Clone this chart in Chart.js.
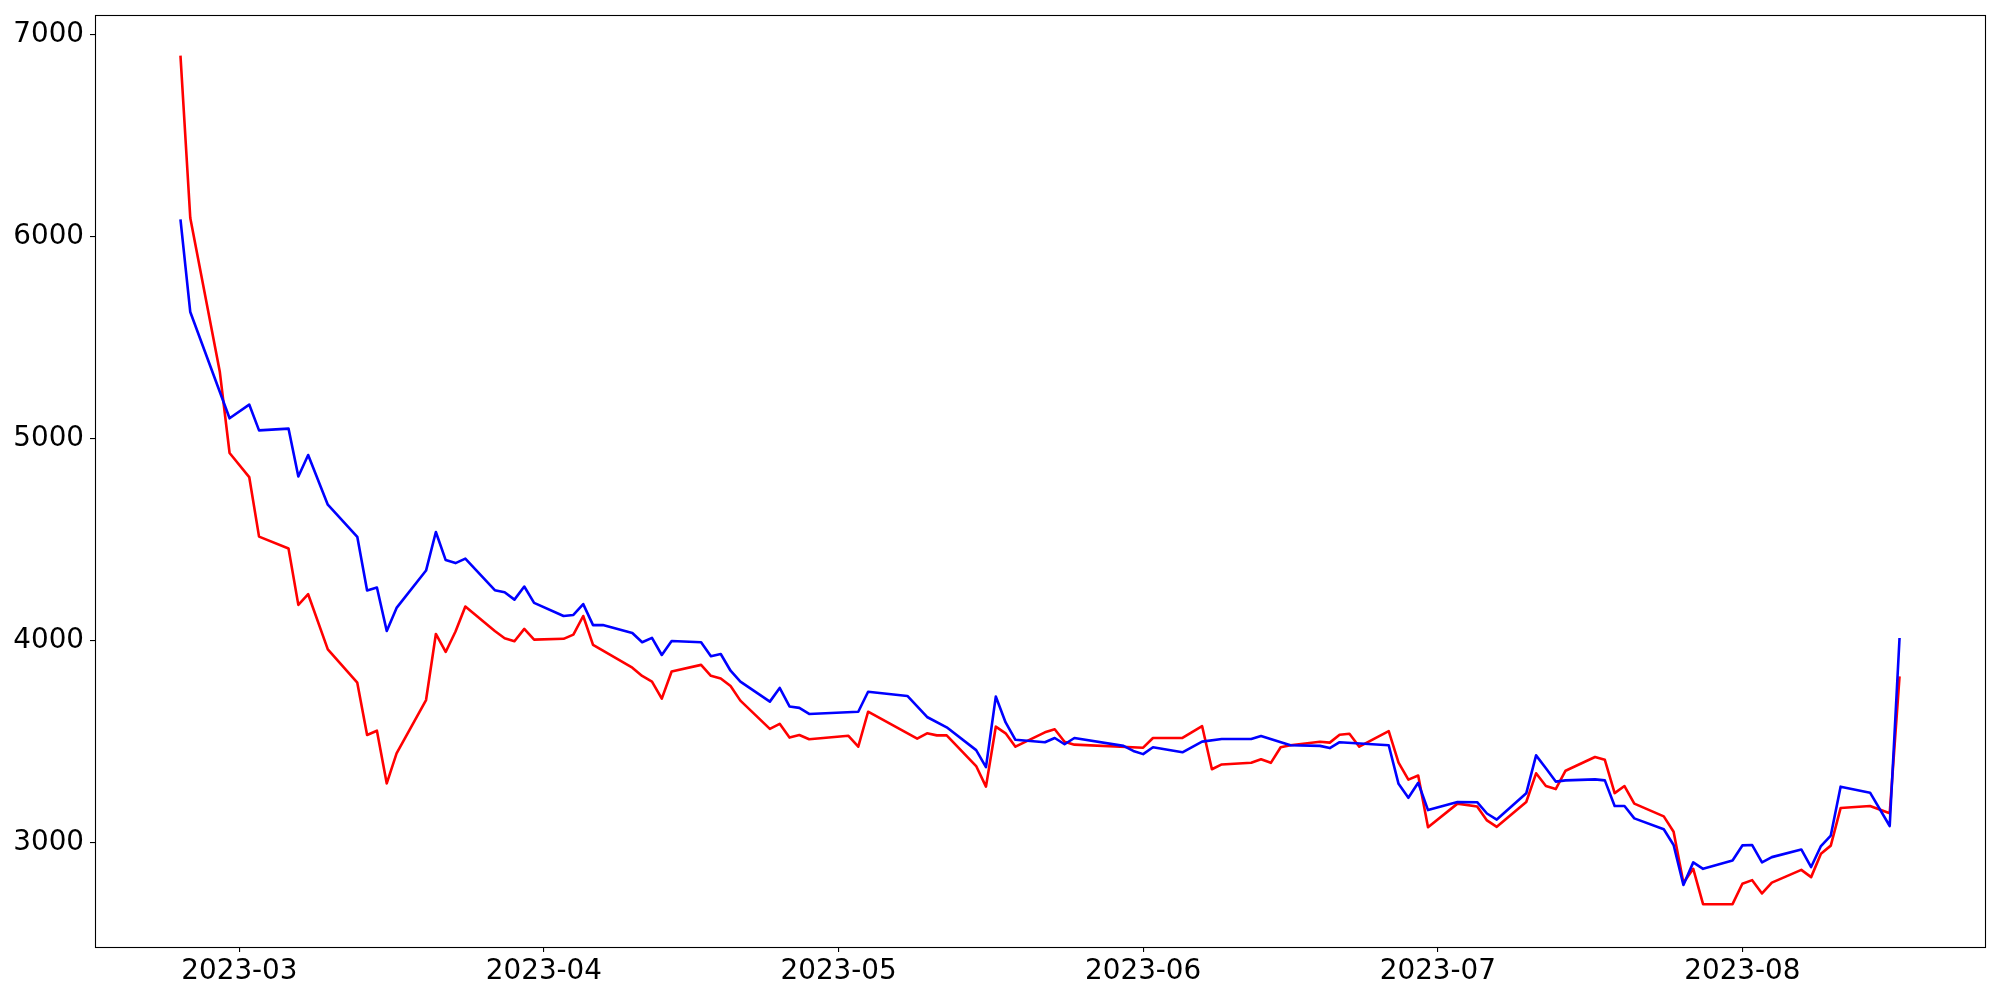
<!DOCTYPE html>
<html>
<head>
<meta charset="utf-8">
<script src="https://cdn.jsdelivr.net/npm/chart.js@4/dist/chart.umd.min.js"></script>
<style>
  html, body { margin: 0; padding: 0; background: #ffffff; }
  #c { display: block; }
</style>
</head>
<body>
<canvas id="c" width="2000" height="1000"></canvas>
<script>
// ---- data ----
const dates = [
  '2023-02-23','2023-02-24','2023-02-27','2023-02-28',
  '2023-03-02','2023-03-03','2023-03-06','2023-03-07','2023-03-08','2023-03-10',
  '2023-03-13','2023-03-14','2023-03-15','2023-03-16','2023-03-17',
  '2023-03-20','2023-03-21','2023-03-22','2023-03-23','2023-03-24',
  '2023-03-27','2023-03-28','2023-03-29','2023-03-30','2023-03-31',
  '2023-04-03','2023-04-04','2023-04-05','2023-04-06','2023-04-07',
  '2023-04-10','2023-04-11','2023-04-12','2023-04-13','2023-04-14',
  '2023-04-17','2023-04-18','2023-04-19','2023-04-20','2023-04-21',
  '2023-04-24','2023-04-25','2023-04-26','2023-04-27','2023-04-28',
  '2023-05-02','2023-05-03','2023-05-04',
  '2023-05-08','2023-05-09','2023-05-10','2023-05-11','2023-05-12',
  '2023-05-15','2023-05-16','2023-05-17','2023-05-18','2023-05-19',
  '2023-05-22','2023-05-23','2023-05-24','2023-05-25',
  '2023-05-30','2023-05-31','2023-06-01','2023-06-02',
  '2023-06-05','2023-06-07','2023-06-08','2023-06-09',
  '2023-06-12','2023-06-13','2023-06-14','2023-06-15','2023-06-16',
  '2023-06-19','2023-06-20','2023-06-21','2023-06-22','2023-06-23',
  '2023-06-26','2023-06-27','2023-06-28','2023-06-29','2023-06-30',
  '2023-07-03','2023-07-05','2023-07-06','2023-07-07',
  '2023-07-10','2023-07-11','2023-07-12','2023-07-13','2023-07-14',
  '2023-07-17','2023-07-18','2023-07-19','2023-07-20','2023-07-21',
  '2023-07-24','2023-07-25','2023-07-26','2023-07-27','2023-07-28',
  '2023-07-31','2023-08-01','2023-08-02','2023-08-03','2023-08-04',
  '2023-08-07','2023-08-08','2023-08-09','2023-08-10','2023-08-11',
  '2023-08-14','2023-08-16','2023-08-17'
];

const redValues = [
  6896, 6092, 5332, 4928,
  4809, 4514, 4455, 4176, 4229, 3956,
  3791, 3532, 3553, 3292, 3441,
  3705, 4032, 3943, 4044, 4168,
  4047, 4011, 3996, 4057, 4004,
  4008, 4029, 4121, 3978, null,
  3865, 3824, 3796, 3712, 3846,
  3879, 3825, 3812, 3774, 3702,
  3562, 3587, 3519, 3532, 3511,
  3528, 3474, 3647,
  null, 3514, 3540, 3530, 3530,
  3378, 3276, 3573, 3540, 3474,
  3545, 3560, 3498, 3484,
  null, null, 3469, 3517,
  3517, 3576, 3362, 3386,
  3394, 3412, 3394, 3471, 3481,
  3498, 3494, 3533, 3538, 3474,
  3551, 3395, 3311, 3331, 3075,
  3192, 3178, 3109, 3077,
  3200, 3342, 3279, 3264, 3355,
  3423, 3409, 3244, 3279, 3192,
  3129, 3053, 2800, 2869, 2694,
  2694, 2795, 2813, 2747, 2801,
  2864, 2828, 2944, 2984, 3170,
  3180, 3144, 3822
];

const blueValues = [
  6085, 5626, null, 5100,
  5168, 5040, 5049, 4812, 4918, 4672,
  4513, 4247, 4262, 4047, 4161,
  4346, 4537, 4398, 4383, 4405,
  4249, 4239, 4202, 4267, 4186,
  4121, 4126, 4180, 4076, 4076,
  4037, 3991, 4013, 3928, 3997,
  3991, 3922, 3933, 3850, 3796,
  3697, 3765, 3673, 3666, 3636,
  null, 3647, 3746,
  3725, null, 3621, null, 3570,
  3457, 3373, 3722, 3594, 3508,
  3496, 3517, 3486, 3517,
  3478, 3453, 3437, 3471,
  3446, 3499, null, 3512,
  3512, 3527, null, null, 3481,
  3478, 3467, 3496, null, null,
  3481, 3290, 3221, 3295, 3160,
  3200, 3199, 3143, 3113,
  3243, 3431, 3367, 3301, 3307,
  3312, 3307, 3180, 3180, 3119,
  3065, 2987, 2789, 2901, 2869,
  2910, 2985, 2987, 2901, 2927,
  2965, 2878, 2982, 3034, 3276,
  3246, 3081, 4012
];

const xTickDates = ['2023-03-01','2023-04-01','2023-05-01','2023-06-01','2023-07-01','2023-08-01'];
const yTickValues = [3000, 4000, 5000, 6000, 7000];

// ---- helpers ----
const DAY = 86400000;
function dayNum(s) {
  const [y, m, d] = s.split('-').map(Number);
  return Date.UTC(y, m - 1, d) / DAY;
}
function fmtMonth(v) {
  const d = new Date(Math.round(v) * DAY);
  return d.getUTCFullYear() + '-' + String(d.getUTCMonth() + 1).padStart(2, '0');
}

const xs = dates.map(dayNum);
const redData = xs.map((x, i) => ({ x: x, y: redValues[i] }));
const blueData = xs.map((x, i) => ({ x: x, y: blueValues[i] }));
const xTickVals = xTickDates.map(dayNum);

const xMin = xs[0] - 8.7;
const xMax = xs[xs.length - 1] + 8.7;

const framePlugin = {
  id: 'frame',
  afterDatasetsDraw(chart) {
    const a = chart.chartArea;
    const ctx = chart.ctx;
    ctx.save();
    ctx.strokeStyle = '#000000';
    ctx.lineWidth = 1.1;
    ctx.strokeRect(Math.round(a.left) + 0.5, Math.round(a.top) + 0.5,
                   Math.round(a.right - a.left), Math.round(a.bottom - a.top));
    ctx.restore();
  }
};

const font = { family: 'DejaVu Sans', size: 27.8 };

new Chart(document.getElementById('c'), {
  type: 'line',
  data: {
    datasets: [
      {
        label: 'red',
        data: redData,
        borderColor: '#ff0000',
        backgroundColor: '#ff0000',
        borderWidth: 2.6,
        pointRadius: 0,
        pointHoverRadius: 0,
        tension: 0,
        spanGaps: true,
        borderJoinStyle: 'round',
        fill: false,
        order: 2
      },
      {
        label: 'blue',
        data: blueData,
        borderColor: '#0000ff',
        backgroundColor: '#0000ff',
        borderWidth: 2.6,
        pointRadius: 0,
        pointHoverRadius: 0,
        tension: 0,
        spanGaps: true,
        borderJoinStyle: 'round',
        fill: false,
        order: 1
      }
    ]
  },
  options: {
    responsive: false,
    animation: false,
    devicePixelRatio: 1,
    layout: { padding: { top: 15, right: 15, left: 0, bottom: 0 } },
    plugins: {
      legend: { display: false },
      tooltip: { enabled: false }
    },
    scales: {
      x: {
        type: 'linear',
        min: xMin,
        max: xMax,
        afterBuildTicks(scale) {
          scale.ticks = xTickVals.map(v => ({ value: v }));
        },
        afterFit(scale) {
          scale.height = 53;
          scale.paddingLeft = 0; scale.paddingRight = 0;
        },
        grid: {
          drawOnChartArea: false,
          drawTicks: true,
          tickLength: 5,
          color: '#000000',
          lineWidth: 1.1
        },
        border: { display: false },
        ticks: {
          autoSkip: false,
          maxRotation: 0,
          minRotation: 0,
          padding: 3,
          color: '#000000',
          font: font,
          callback: (v) => fmtMonth(v)
        }
      },
      y: {
        type: 'linear',
        min: 2482,
        max: 7097,
        afterBuildTicks(scale) {
          scale.ticks = yTickValues.map(v => ({ value: v }));
        },
        afterFit(scale) {
          scale.width = 95;
          scale.paddingTop = 0; scale.paddingBottom = 0;
        },
        grid: {
          drawOnChartArea: false,
          drawTicks: true,
          tickLength: 5,
          color: '#000000',
          lineWidth: 1.1
        },
        border: { display: false },
        ticks: {
          padding: 6,
          color: '#000000',
          font: font,
          callback: (v) => String(v)
        }
      }
    }
  },
  plugins: [framePlugin]
});
</script>
</body>
</html>
